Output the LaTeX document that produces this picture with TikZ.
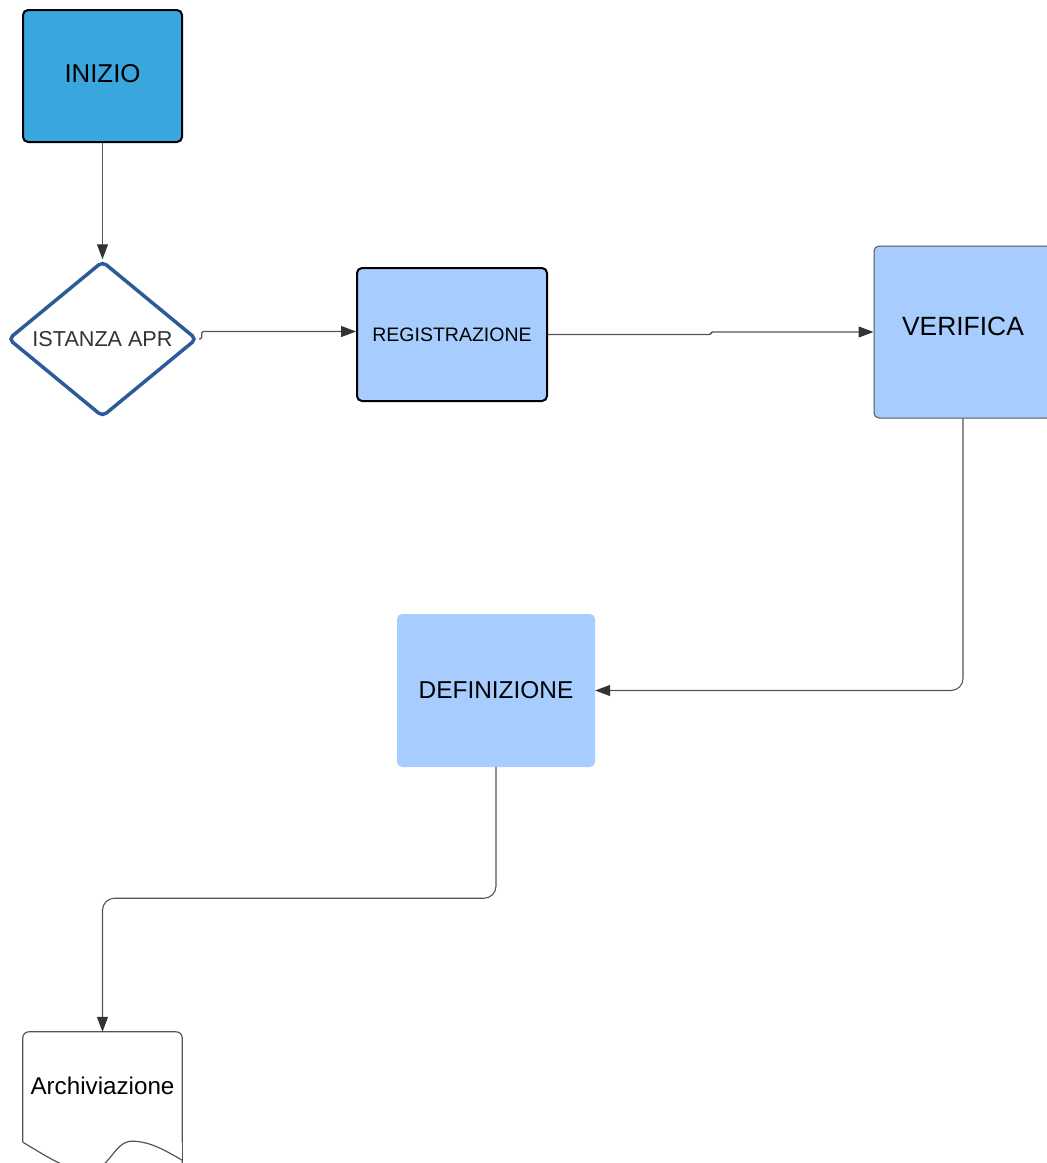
\documentclass[tikz,border=0pt]{standalone}
\usepackage{fontspec}
\setmainfont{Liberation Sans}
\usetikzlibrary{shapes.geometric,arrows.meta,calc}
\definecolor{deepblue}{HTML}{3AA6DE}
\definecolor{lightblue}{HTML}{A6CDFD}
\definecolor{diamondblue}{HTML}{2D5B9A}
\definecolor{conncol}{HTML}{555555}
\definecolor{tipcol}{HTML}{333333}
\tikzset{
  box/.style={rectangle, rounded corners=5pt, inner sep=0pt, align=center},
  conn/.style={draw=conncol, line width=1.1pt, -{Triangle[length=15pt,width=11pt,fill=tipcol,color=tipcol]}},
}
\begin{document}
\begin{tikzpicture}[x=1pt,y=-1pt]
\useasboundingbox (0,0) rectangle (1047,1163);
% nodes
\node[box, draw=black, line width=2pt, fill=deepblue, minimum width=159pt, minimum height=132pt, font=\fontsize{25.8}{30}\selectfont]
  (inizio) at (102.5,76) {\raisebox{5pt}{INIZIO}};
\node[diamond, aspect=1.21, draw=diamondblue, line width=3.5pt, rounded corners=5pt, fill=white,
  minimum width=189pt, minimum height=156pt, inner sep=0pt, text=tipcol, font=\fontsize{21.6}{25}\selectfont]
  (istanza) at (102.5,339) {ISTANZA APR};
\node[box, draw=black, line width=2pt, fill=lightblue, minimum width=190pt, minimum height=133pt, font=\fontsize{19.5}{23}\selectfont]
  (reg) at (452,334.5) {REGISTRAZIONE};
\node[box, draw=conncol, line width=1pt, fill=lightblue, minimum width=178pt, minimum height=172pt, font=\fontsize{26.4}{31}\selectfont]
  (ver) at (963,332) {\raisebox{12pt}{VERIFICA}};
\node[box, draw=none, fill=lightblue, minimum width=198pt, minimum height=153pt, font=\fontsize{24.4}{29}\selectfont]
  (def) at (496,690.5) {\raisebox{2pt}{DEFINIZIONE}};
\node[rectangle, inner sep=0pt, minimum width=159pt, minimum height=110pt, font=\fontsize{24.2}{29}\selectfont]
  (arch) at (102.5,1087) {\raisebox{2pt}{Archiviazione}};
\draw[conncol, line width=1.2pt, rounded corners=6pt]
  (arch.south west) |- (arch.north) -| (arch.south east);
\draw[conncol, line width=1.2pt]
  (arch.south west) .. controls ($(arch.south west)+(27,16)$) and ($(arch.south west)+(47,30)$) .. ($(arch.south west)+(69,28)$)
  .. controls ($(arch.south west)+(87,26)$) and ($(arch.south west)+(92,-1)$) .. ($(arch.south west)+(109,-1)$)
  .. controls ($(arch.south west)+(127,-1)$) and ($(arch.south west)+(142,8)$) .. ($(arch.south east)+(0,18)$)
  -- ($(arch.south east)+(0,30)$);
\draw[conncol, line width=1.2pt] (arch.south east) -- ($(arch.south east)+(0,18)$);
% connectors
\draw[conn, rounded corners=1.5pt] (inizio.south) -- (istanza.north);
\draw[conn, rounded corners=1.5pt] (istanza.east) -- ($(istanza.east)+(3,0)$) |- ($(reg.west)+(0,-3)$);
\draw[conn, rounded corners=1.5pt] (reg.east) -- ++(163,0) |- (ver.west);
\draw[conn, rounded corners=12pt] (ver.south) |- (def.east);
\draw[conn, rounded corners=12pt] (def.south) -- ++(0,131) -| (arch.north);
\end{tikzpicture}
\end{document}
